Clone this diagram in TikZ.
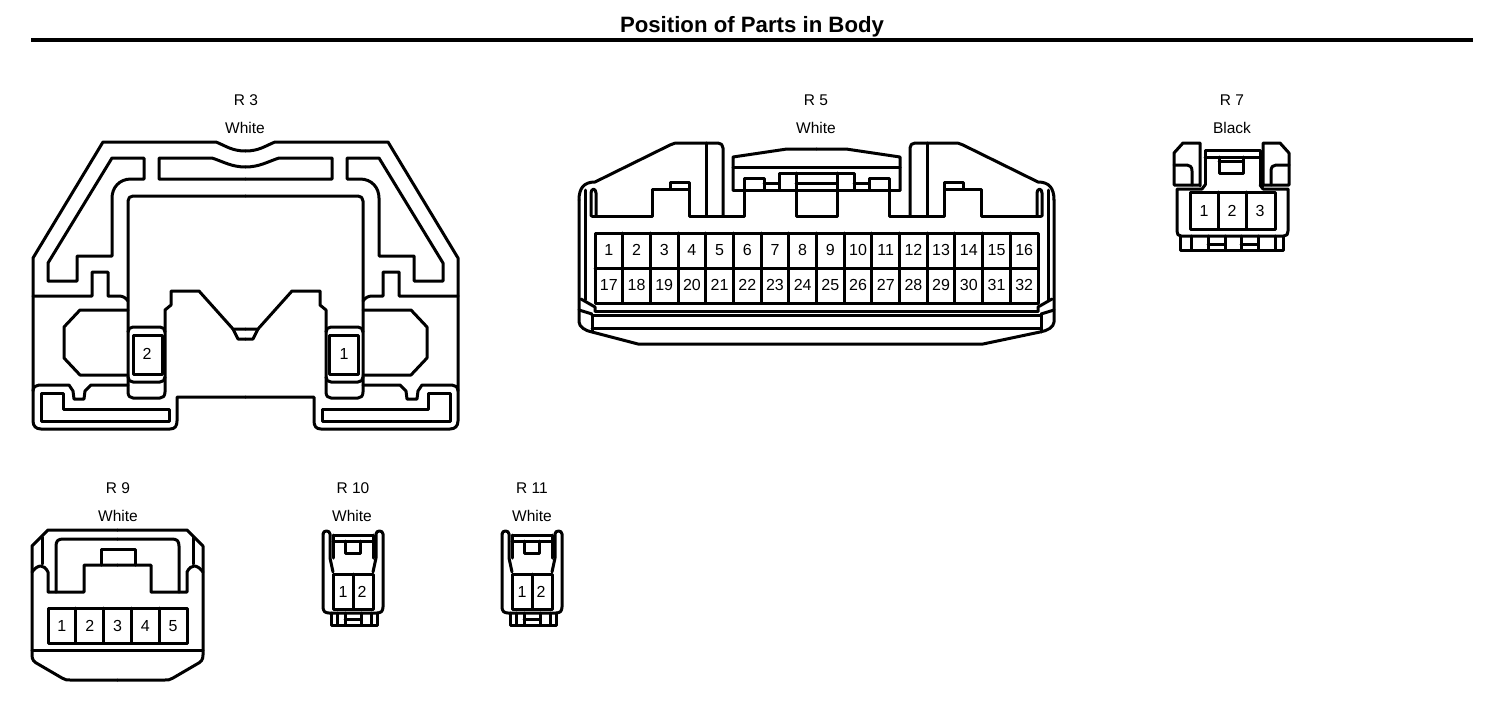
\documentclass[tikz,border=0pt]{standalone}
\usepackage{fontspec}
\setmainfont{Liberation Sans}
\newcommand{\RthreeHalf}{%
  \draw[ln] (245.5,151) .. controls (232,151) and (226,146) .. (216,142) -- (103,142) -- (33,258) -- (33,421) .. controls (33,426) and (36,429) .. (41,429) -- (170,429) .. controls (175,429) and (177,426) .. (177,421) -- (177,397) -- (245.5,397);
  \draw[ln] (33,296) -- (92,296) -- (92,272) -- (108,272) -- (108,296) -- (119,296) .. controls (123,296) and (126,298) .. (128,301);
  \draw[ln] (112,158) -- (144,158) -- (144,179) -- (131,179) .. controls (119,179) and (112,188) .. (112,198) -- (112,256) -- (77,256) -- (77,281) -- (48,281) -- (48,263) -- cycle;
  \draw[ln] (245.5,167) .. controls (232,167) and (224,162) .. (212,158) -- (159,158) -- (159,179) -- (245.5,179);
  \draw[ln] (245.5,196) -- (133,196) .. controls (130,196) and (128,198) .. (128,201) -- (128,392) .. controls (128,396) and (130,398) .. (133,398) -- (160,398) .. controls (163,398) and (165,396) .. (165,392) -- (165,310) -- (171,305) -- (171,291) -- (199,291) -- (233,329) -- (245.5,329);
  \draw[ln] (233,329) -- (238,339) -- (245.5,339);
  \draw[ln] (128,332) .. controls (128,329) and (130,327) .. (133,327) -- (160,327) .. controls (163,327) and (165,329) .. (165,332);
  \draw[ln] (128,377) .. controls (128,380) and (130,382) .. (133,382) -- (160,382) .. controls (163,382) and (165,380) .. (165,377);
  \draw[ln] (128,310) -- (80,310) -- (64,327) -- (64,358) -- (80,375) -- (128,375);
  \draw[ln] (128,385) -- (91,385) -- (85,391) -- (84,399) -- (74,399) -- (73,391) -- (69,385) -- (39,385) .. controls (36,385) and (33,387) .. (33,391);
  \draw[ln] (41,393) -- (63,393) -- (63,409) -- (169,409) -- (169,421) -- (41,421) -- cycle;
  \draw[ln] (133,335) rectangle (162,374);
}
\newcommand{\RfiveHalf}{%
  \draw[ln] (579,200) .. controls (579,188) and (584,182) .. (595,182) -- (670,145) .. controls (673,143) and (676,143) .. (680,143) -- (718,143) .. controls (721,143) and (723,145) .. (723,148) -- (723,216);
  \draw[ln] (706,143) -- (706,216);
  \draw[ln] (592,216) -- (652,216) -- (652,189) -- (689,189) -- (689,216) -- (744,216) -- (744,178) -- (764,178) -- (764,190);
  \draw[ln] (670,189) -- (670,182) -- (689,182) -- (689,189);
  \draw[ln] (591,216) -- (591,193) .. controls (591,188) and (596,188) .. (596,193) -- (596,216);
  \draw[ln] (585,190) -- (585,300);
  \draw[ln] (581,299) -- (595,307) -- (595,311);
  \draw[ln] (579,310) -- (592,314);
  \draw[ln] (733,190) -- (733,157) -- (787,149) -- (816.5,149);
  \draw[ln] (733,167) -- (816.5,167);
  \draw[ln] (733,190) -- (816.5,190);
  \draw[ln] (764,183) -- (779,183);
  \draw[ln] (779,190) -- (779,173) -- (816.5,173);
  \draw[ln] (796,173) -- (796,216) -- (816.5,216);
  \draw[ln] (796,183) -- (816.5,183);
}
\newcommand{\RtenBody}{%
  \draw[ln] (323,534) .. controls (323,530) and (330,530) .. (330,534) -- (330,558) -- (333,572);
  \draw[ln] (323,534) -- (323,607) .. controls (323,611) and (325,613) .. (329,613) -- (377,613) .. controls (381,613) and (383,611) .. (383,607) -- (383,534) .. controls (383,530) and (376,530) .. (376,534) -- (376,558) -- (373,572);
  \draw[ln] (333,535) -- (373,535);
  \draw[ln] (333,541) -- (373,541);
  \draw[ln] (333,535) -- (333,558);
  \draw[ln] (373,535) -- (373,558);
  \draw[ln] (345,541) -- (345,553) -- (360,553) -- (360,541);
  \draw[ln] (333,574) rectangle (373,609);
  \draw[ln] (353,574) -- (353,609);
  \draw[ln] (331,613) -- (331,625) -- (377,625) -- (377,613);
  \draw[ln] (337,613) -- (337,625);
  \draw[ln] (345,613) -- (345,625);
  \draw[ln] (361,613) -- (361,625);
  \draw[ln] (371,613) -- (371,625);
  \draw[ln] (345,619) -- (361,619);
}
\newcommand{\RnineHalf}{%
  \draw[ln] (117.5,530) -- (48,530) -- (32,546) -- (32,655) .. controls (32,660) and (34,662) .. (38,664) -- (62,678) .. controls (65,680) and (67,680) .. (70,680) -- (117.5,680);
  \draw[ln] (117.5,565) -- (84,565) -- (84,592) -- (48,592) -- (48,572) .. controls (44,564) and (38,564) .. (32,572);
  \draw[ln] (56,592) -- (56,546) .. controls (56,541) and (58,539) .. (63,539) -- (117.5,539);
  \draw[ln] (42,537) -- (42,564);
}
\tikzset{
  x=1pt,y=-1pt,
  ln/.style={line width=3pt,line join=round,line cap=round,black},
  lbl/.style={font=\fontsize{15.5}{18}\selectfont,inner sep=0pt,text=black,anchor=base},
  num/.style={font=\fontsize{16}{18}\selectfont,inner sep=0pt,text=black,text height=11.5pt,text depth=0pt},
}
\begin{document}
\begin{tikzpicture}[x=1pt,y=-1pt]
\useasboundingbox[fill=white] (0,0) rectangle (1504,712);
% title
\node[inner sep=0pt,anchor=base,font=\bfseries\fontsize{22.2}{26}\selectfont] (title) at (752,32) {Position of Parts in Body};
\coordinate (ruleL) at (31,40); \coordinate (ruleR) at (1473,40);
\draw[line width=3.5pt] (ruleL) -- (ruleR);
% labels
\node[lbl] (r3) at (246,105) {R 3};
\node[lbl] (r3c) at (245,133) {White};
\node[lbl] (r5) at (816,105) {R 5};
\node[lbl] (r5c) at (816,133) {White};
\node[lbl] (r7) at (1232,105) {R 7};
\node[lbl] (r7c) at (1232,133) {Black};
\node[lbl] (r9) at (118,493) {R 9};
\node[lbl] (r9c) at (118,521) {White};
\node[lbl] (r10) at (353,493) {R 10};
\node[lbl] (r10c) at (352,521) {White};
\node[lbl] (r11) at (532,493) {R 11};
\node[lbl] (r11c) at (532,521) {White};
% R3
\RthreeHalf
\begin{scope}[shift={(491,0)},xscale=-1]\RthreeHalf\end{scope}
\node[num] (r3n2) at (147,354) {2};
\node[num] (r3n1) at (344,354) {1};
% R5
\RfiveHalf
\begin{scope}[shift={(1633,0)},xscale=-1]\RfiveHalf\end{scope}
\draw[ln] (579,200) -- (579,322) .. controls (579,327) and (586,331) .. (592,332) -- (638,344) -- (983,344) -- (1040,332) .. controls (1047,331) and (1054,327) .. (1054,322) -- (1054,200);
\draw[ln] (595,311) -- (1038,311);
\draw[ln] (592,315) -- (1041,315);
\draw[ln] (592,328) -- (1041,328);
\draw[ln] (592,315) -- (592,332);
\draw[ln] (1041,315) -- (1041,332);
\draw[ln] (595,233) rectangle (1038,303);
\draw[ln] (595,268) -- (1038,268);
\foreach \i in {1,...,15} {\draw[ln] ({595+\i*27.69},233) -- ({595+\i*27.69},303);}
\foreach \i in {1,...,16} {
  \node[num] (a\i) at ({595+(\i-0.5)*27.69},250) {\i};
  \pgfmathtruncatemacro{\j}{\i+16}
  \node[num] (b\i) at ({595+(\i-0.5)*27.69},285) {\j};
}
% R7
\draw[ln] (1200,186) -- (1200,143) -- (1183,143) -- (1174,153) -- (1174,185) -- (1200,185);
\draw[ln] (1263,186) -- (1263,143) -- (1280,143) -- (1289,153) -- (1289,185) -- (1263,185);
\draw[ln] (1174,165) -- (1187,165) .. controls (1190,165) and (1192,167) .. (1192,171) -- (1192,185);
\draw[ln] (1289,165) -- (1276,165) .. controls (1273,165) and (1271,167) .. (1271,171) -- (1271,185);
\draw[ln] (1205,185) -- (1205,150) -- (1260,150) -- (1260,185);
\draw[ln] (1205,157) -- (1260,157);
\draw[ln] (1219,157) -- (1219,173) -- (1243,173) -- (1243,157);
\draw[ln] (1219,161) -- (1243,161);
\draw[ln] (1205,185) -- (1202,189) -- (1177,189) -- (1177,231) .. controls (1177,234) and (1178,236) .. (1181,236) -- (1284,236) .. controls (1287,236) and (1288,234) .. (1288,231) -- (1288,189) -- (1263,189) -- (1260,185);
\draw[ln] (1190,192) rectangle (1275,229);
\draw[ln] (1218,192) -- (1218,229);
\draw[ln] (1246,192) -- (1246,229);
\draw[ln] (1180,236) -- (1180,250) -- (1283,250) -- (1283,236);
\foreach \xa in {1191,1208,1225,1241,1258,1275} {\draw[ln] (\xa,236) -- (\xa,250);}
\draw[ln] (1208,244) -- (1225,244);
\draw[ln] (1241,244) -- (1258,244);
\node[num] (r7n1) at (1204,211) {1};
\node[num] (r7n2) at (1232,211) {2};
\node[num] (r7n3) at (1260,211) {3};
% R9
\RnineHalf
\begin{scope}[shift={(235,0)},xscale=-1]\RnineHalf\end{scope}
\draw[ln] (32,650) -- (203,650);
\draw[ln] (101,565) -- (101,549) -- (135,549) -- (135,565);
\draw[ln] (48,608) rectangle (187,643);
\foreach \i in {1,...,4} {\draw[ln] ({48+\i*27.8},608) -- ({48+\i*27.8},643);}
\foreach \i in {1,...,5} {\node[num] (r9n\i) at ({48+(\i-0.5)*27.8},625.5) {\i};}
% R10
\RtenBody
\node[num] (r10n1) at (343,592) {1};
\node[num] (r10n2) at (362,592) {2};
% R11
\begin{scope}[shift={(179,0)}]\RtenBody\end{scope}
\node[num] (r11n1) at (522,592) {1};
\node[num] (r11n2) at (541,592) {2};
\end{tikzpicture}
\end{document}
